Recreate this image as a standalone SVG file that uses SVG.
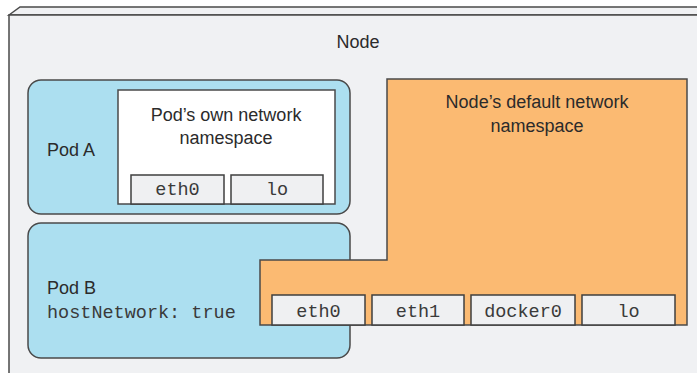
<svg xmlns="http://www.w3.org/2000/svg" width="697" height="373" viewBox="0 0 697 373">
<style>
.ln{stroke:#4a4a4a;stroke-width:1.5}
.sans{font-family:"Liberation Sans",Arial,sans-serif;font-size:18px;fill:#2b2b2b}
.mono{font-family:"Liberation Mono","Courier New",monospace;font-size:18.5px;fill:#3a3a3a}
.mid{text-anchor:middle}
.iface{fill:#eff0f2;stroke:#3f3f3f;stroke-width:1.5}
</style>
<rect width="697" height="373" fill="#ffffff"/>
<g id="node">
<path d="M9,15 L20,7 L700,7 L700,15 Z" fill="#f0f1f3" class="ln"/>
<rect x="9" y="15" width="700" height="370" fill="#f0f1f3" class="ln"/>
<text x="358" y="48" class="sans mid">Node</text>
</g>
<g id="podA">
<rect x="28" y="80" width="322" height="134" rx="13" fill="#acdff0" class="ln"/>
<text x="47" y="156" class="sans">Pod A</text>
</g>
<g id="podA-ns">
<rect x="118" y="90" width="217" height="114" fill="#ffffff" class="ln"/>
<text x="226" y="121" class="sans mid">Pod’s own network</text>
<text x="226" y="144" class="sans mid">namespace</text>
</g>
<g id="podA-eth0">
<rect x="131" y="175" width="93" height="29" class="iface"/>
<text x="177.5" y="195" class="mono mid">eth0</text>
</g>
<g id="podA-lo">
<rect x="231" y="175" width="92" height="29" class="iface"/>
<text x="277" y="195" class="mono mid">lo</text>
</g>
<g id="podB">
<rect x="28" y="223" width="322" height="135" rx="13" fill="#acdff0" class="ln"/>
<text x="47" y="294" class="sans">Pod B</text>
<text x="47" y="318" class="mono">hostNetwork: true</text>
</g>
<g id="node-ns">
<path d="M387,79 L687,79 L687,325 L260,325 L260,260 L387,260 Z" fill="#fbba72" class="ln"/>
<text x="537" y="108" class="sans mid">Node’s default network</text>
<text x="537" y="132" class="sans mid">namespace</text>
</g>
<g id="node-eth0">
<rect x="272" y="295" width="93" height="30" class="iface"/>
<text x="318.5" y="317" class="mono mid">eth0</text>
</g>
<g id="node-eth1">
<rect x="372" y="295" width="92" height="30" class="iface"/>
<text x="418" y="317" class="mono mid">eth1</text>
</g>
<g id="node-docker0">
<rect x="471" y="295" width="104" height="30" class="iface"/>
<text x="523" y="317" class="mono mid">docker0</text>
</g>
<g id="node-lo">
<rect x="582" y="295" width="93" height="30" class="iface"/>
<text x="628.5" y="317" class="mono mid">lo</text>
</g>
<g id="connectors"/>
</svg>
